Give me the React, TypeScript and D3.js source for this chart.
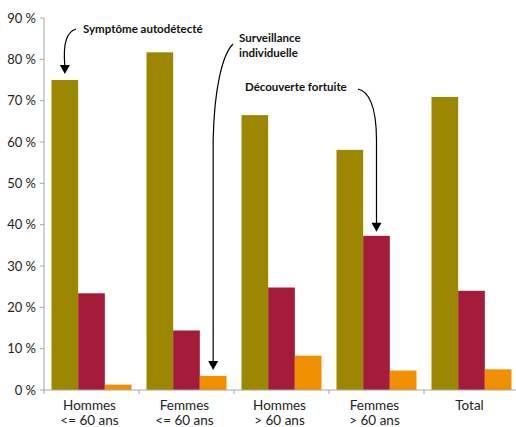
import React from "react";
import * as d3 from "d3";

const categories = [["Hommes", "<= 60 ans"], ["Femmes", "<= 60 ans"], ["Hommes", "> 60 ans"], ["Femmes", "> 60 ans"], ["Total"]];
const seriesNames = ["Symptôme autodétecté", "Découverte fortuite", "Surveillance individuelle"];
const symptome = [75.0, 81.7, 66.5, 58.1, 70.9];
const decouverte = [23.4, 14.4, 24.8, 37.3, 24.0];
const surveillance = [1.3, 3.4, 8.3, 4.7, 5.0];
const yTicks = [0, 10, 20, 30, 40, 50, 60, 70, 80, 90];
const colors = ["#9b8700", "#a51c3a", "#f09000"];

const W = 516, H = 427;
const FONT = "Lato, 'Open Sans', sans-serif";

export default function App() {
  const keys = categories.map((_, i) => String(i));
  const x0 = d3.scaleBand().domain(keys).range([44, 519]).padding(0);
  const x1 = d3.scaleBand().domain(["0", "1", "2"]).range([7.5, x0.bandwidth() - 7.5]).padding(0);
  const y = d3.scaleLinear().domain([0, 90]).range([390, 18]);
  const series = [symptome, decouverte, surveillance];

  const barCenter = (g: number, s: number) => x0(String(g))! + x1(String(s))! + x1.bandwidth() / 2;

  const arrowHead = (cx: number, tip: number) => `M${cx - 5},${tip - 9} L${cx + 5},${tip - 9} L${cx},${tip} Z`;

  const a1x = barCenter(0, 0), a1tip = y(symptome[0]) - 6;
  const a2x = barCenter(1, 2), a2tip = y(surveillance[1]) - 6;
  const a3x = barCenter(3, 1), a3tip = y(decouverte[3]) - 4;

  return (
    <svg width={W} height={H} style={{ position: "absolute", left: 0, top: 0, background: "#fff" }} fontFamily={FONT}>
      {series.map((vals, s) =>
        vals.map((v, g) => (
          <rect key={`${s}-${g}`} x={x0(String(g))! + x1(String(s))!} y={y(v)} width={x1.bandwidth()} height={y(0) - y(v)} fill={colors[s]} />
        ))
      )}
      <line x1={44} x2={44} y1={y(90)} y2={y(0)} stroke="#a6a6a6" strokeWidth={1} />
      {yTicks.map((t) => (
        <g key={t}>
          <line x1={40} x2={44} y1={y(t)} y2={y(t)} stroke="#a6a6a6" />
          <text x={36} y={y(t)} dy="0.36em" textAnchor="end" fontSize={13} fill="#222">{`${t} %`}</text>
        </g>
      ))}
      <line x1={44} x2={W} y1={y(0)} y2={y(0)} stroke="#a6a6a6" />
      {keys.map((k) => (
        <line key={k} x1={x0(k)!} x2={x0(k)!} y1={y(0)} y2={y(0) + 4} stroke="#a6a6a6" />
      ))}
      {categories.map((lines, i) => (
        <text key={i} x={x0(String(i))! + x0.bandwidth() / 2 - 2} y={410} textAnchor="middle" fontSize={13.5} fill="#222">
          {lines.map((l, j) => (
            <tspan key={j} x={x0(String(i))! + x0.bandwidth() / 2 - 2} dy={j === 0 ? 0 : 14.5}>{l}</tspan>
          ))}
        </text>
      ))}
      <g fontWeight="bold" fontSize={11.5} fill="#111">
        <text x={83} y={33}>{seriesNames[0]}</text>
        <text x={239} y={42}>Surveillance</text>
        <text x={239} y={57}>individuelle</text>
        <text x={245} y={91}>{seriesNames[1]}</text>
      </g>
      <g fill="none" stroke="#000" strokeWidth={1.2}>
        <path d={`M76,29 C67,32 ${a1x - 2},42 ${a1x},${a1tip - 8}`} />
        <path d={`M233,44 C222,55 ${a2x + 1},90 ${a2x},140 L${a2x},${a2tip - 8}`} />
        <path d={`M358,89 C368,91 ${a3x},105 ${a3x},140 L${a3x},${a3tip - 8}`} />
      </g>
      <g fill="#000">
        <path d={arrowHead(a1x, a1tip)} />
        <path d={arrowHead(a2x, a2tip)} />
        <path d={arrowHead(a3x, a3tip)} />
      </g>
    </svg>
  );
}
